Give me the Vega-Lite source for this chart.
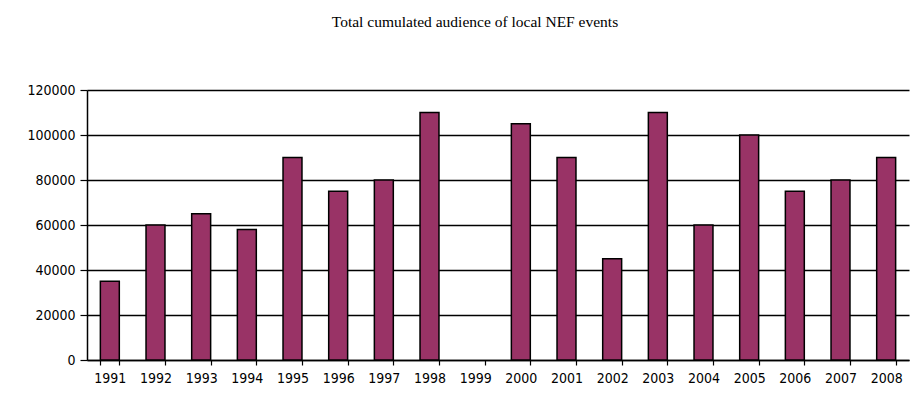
{
  "$schema": "https://vega.github.io/schema/vega-lite/v6.json",
  "autosize": {"type": "none"},
  "width": 822,
  "height": 270,
  "padding": {"left": 87, "top": 90, "right": 7, "bottom": 44},
  "background": "white",
  "title": {
    "text": "Total cumulated audience of local NEF events",
    "font": "Liberation Serif",
    "fontSize": 15.5,
    "fontWeight": "normal",
    "color": "black",
    "anchor": "middle",
    "offset": 53,
    "dx": -23
  },
  "data": {
    "values": [
      {"year": "1991", "audience": 35000},
      {"year": "1992", "audience": 60000},
      {"year": "1993", "audience": 65000},
      {"year": "1994", "audience": 58000},
      {"year": "1995", "audience": 90000},
      {"year": "1996", "audience": 75000},
      {"year": "1997", "audience": 80000},
      {"year": "1998", "audience": 110000},
      {"year": "1999", "audience": null},
      {"year": "2000", "audience": 105000},
      {"year": "2001", "audience": 90000},
      {"year": "2002", "audience": 45000},
      {"year": "2003", "audience": 110000},
      {"year": "2004", "audience": 60000},
      {"year": "2005", "audience": 100000},
      {"year": "2006", "audience": 75000},
      {"year": "2007", "audience": 80000},
      {"year": "2008", "audience": 90000}
    ]
  },
  "mark": {"type": "bar", "fill": "#993366", "stroke": "black", "strokeWidth": 1.5},
  "encoding": {
    "x": {
      "field": "year",
      "type": "ordinal",
      "scale": {
        "domain": ["1991", "1992", "1993", "1994", "1995", "1996", "1997", "1998", "1999", "2000", "2001", "2002", "2003", "2004", "2005", "2006", "2007", "2008"],
        "paddingInner": 0.585,
        "paddingOuter": 0.2925
      },
      "axis": {
        "title": null,
        "labelAngle": 0,
        "labelFont": "DejaVu Sans Condensed, DejaVu Sans",
        "labelFontSize": 14,
        "labelColor": "black",
        "labelPadding": 6,
        "tickBand": "extent",
        "tickSize": 5,
        "tickColor": "black",
        "tickWidth": 1.2,
        "domainColor": "black",
        "domainWidth": 1.5,
        "grid": false
      }
    },
    "y": {
      "field": "audience",
      "type": "quantitative",
      "scale": {"domain": [0, 120000], "nice": false},
      "axis": {
        "title": null,
        "values": [0, 20000, 40000, 60000, 80000, 100000, 120000],
        "format": "d",
        "labelFont": "DejaVu Sans Condensed, DejaVu Sans",
        "labelFontSize": 14,
        "labelColor": "black",
        "labelPadding": 5,
        "tickSize": 7,
        "tickColor": "black",
        "tickWidth": 1.2,
        "domainColor": "black",
        "domainWidth": 1.5,
        "grid": true,
        "gridColor": "black",
        "gridWidth": 1.5,
        "gridOpacity": 1
      }
    }
  },
  "config": {"view": {"stroke": null}}
}
